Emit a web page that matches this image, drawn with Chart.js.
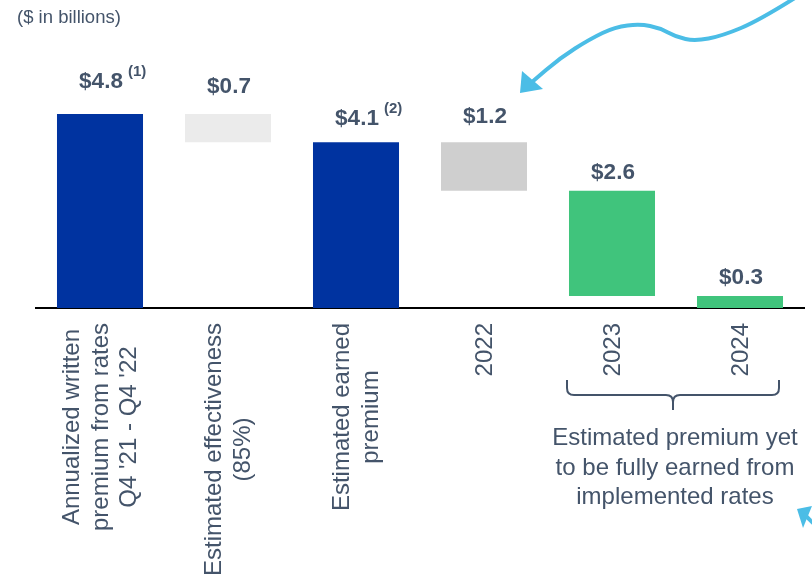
<!DOCTYPE html>
<html>
<head>
<meta charset="utf-8">
<script src="https://cdn.jsdelivr.net/npm/chart.js@4"></script>
<style>
  html, body { margin: 0; padding: 0; background: #fff; }
  #wrap { width: 812px; height: 576px; position: relative; }
</style>
</head>
<body>
<div id="wrap"><canvas id="premiumChart"></canvas></div>
<script>
// Waterfall: written premium -> earned premium -> what is still to be earned
const categories = [
    ['Annualized written', 'premium from rates', "Q4 '21 - Q4 '22"],
    ['Estimated effectiveness', '(85%)'],
    ['Estimated earned', 'premium'],
    ['2022'],
    ['2023'],
    ['2024']
];
const amounts = [4.8, 0.7, 4.1, 1.2, 2.6, 0.3];          // $ billions
const stepTypes = ['total', 'down', 'total', 'down', 'down', 'down'];
const footnotes = ['(1)', '', '(2)', '', '', ''];
const annotation = ['Estimated premium yet', 'to be fully earned from', 'implemented rates'];

const barColors = ['#0033a0', '#ebebeb', '#0033a0', '#cfcfcf', '#40c47c', '#40c47c'];
const labelLift = [26, 21, 17, 19, 12, 12];  // gap between bar top and value label baseline
const textColor = '#44546a';
const arrowColor = '#4bbde6';
const FONT = '"Liberation Sans", Arial, sans-serif';

// floating [from, to] ranges for each step
let level = 0;
const ranges = amounts.map((v, i) => {
    if (stepTypes[i] === 'total') {
        level = v;
        return [0, v];
    }
    const top = level;
    level = +(level - v).toFixed(2);
    return [level, top];
});

function smoothPath(ctx, pts) {
    ctx.moveTo(pts[0][0], pts[0][1]);
    for (let i = 1; i < pts.length - 1; i++) {
        const mx = (pts[i][0] + pts[i + 1][0]) / 2;
        const my = (pts[i][1] + pts[i + 1][1]) / 2;
        ctx.quadraticCurveTo(pts[i][0], pts[i][1], mx, my);
    }
    const last = pts[pts.length - 1];
    ctx.lineTo(last[0], last[1]);
}

const decorations = {
    id: 'decorations',
    afterDraw(chart) {
        const ctx = chart.ctx;
        const xs = chart.scales.x;
        const ys = chart.scales.y;
        const bottom = chart.chartArea.bottom;
        ctx.save();
        ctx.fillStyle = textColor;

        // units note
        ctx.font = '18.5px ' + FONT;
        ctx.textAlign = 'left';
        ctx.textBaseline = 'alphabetic';
        ctx.fillText('($ in billions)', 17, 23);

        // value labels above each bar
        ranges.forEach((r, i) => {
            const cx = xs.getPixelForValue(i) + 1;
            const base = ys.getPixelForValue(r[1]) - labelLift[i];
            const text = '$' + amounts[i].toFixed(1);
            ctx.font = 'bold 22.5px ' + FONT;
            ctx.textAlign = 'center';
            ctx.fillText(text, cx, base);
            if (footnotes[i]) {
                const w = ctx.measureText(text).width;
                ctx.font = 'bold 15px ' + FONT;
                ctx.textAlign = 'left';
                ctx.fillText(footnotes[i], cx + w / 2 + 5, base - 12);
            }
        });

        // rotated category labels, lines centred on each other
        ctx.font = '24px ' + FONT;
        categories.forEach((lines, i) => {
            const cx = xs.getPixelForValue(i);
            const widest = Math.max(...lines.map(l => ctx.measureText(l).width));
            ctx.save();
            ctx.translate(cx, bottom + 15 + widest / 2);
            ctx.rotate(-Math.PI / 2);
            ctx.textAlign = 'center';
            ctx.textBaseline = 'middle';
            lines.forEach((l, k) => ctx.fillText(l, 0, (k - (lines.length - 1) / 2) * 28.5 + 1));
            ctx.restore();
        });

        // brace under 2023 - 2024
        const left = xs.getPixelForValue(4) - 45;
        const right = xs.getPixelForValue(5) + 39;
        const mid = (left + right) / 2;
        const bTop = 380, bLine = 395, bTip = 410, r = 7;
        ctx.strokeStyle = textColor;
        ctx.lineWidth = 2;
        ctx.beginPath();
        ctx.moveTo(left, bTop);
        ctx.lineTo(left, bLine - r);
        ctx.quadraticCurveTo(left, bLine, left + r, bLine);
        ctx.lineTo(mid - r, bLine);
        ctx.quadraticCurveTo(mid, bLine, mid, bLine + r);
        ctx.lineTo(mid, bTip);
        ctx.moveTo(mid, bLine + r);
        ctx.quadraticCurveTo(mid, bLine, mid + r, bLine);
        ctx.lineTo(right - r, bLine);
        ctx.quadraticCurveTo(right, bLine, right, bLine - r);
        ctx.lineTo(right, bTop);
        ctx.stroke();

        ctx.font = '24px ' + FONT;
        ctx.textAlign = 'center';
        ctx.textBaseline = 'alphabetic';
        annotation.forEach((l, k) => ctx.fillText(l, mid + 2, 445 + k * 29.5));

        // curved call-out arrow pointing at the 2022 bar
        ctx.strokeStyle = arrowColor;
        ctx.fillStyle = arrowColor;
        ctx.lineWidth = 4;
        ctx.lineCap = 'round';
        ctx.beginPath();
        smoothPath(ctx, [[798, -4], [760, 20], [722, 36], [695, 41], [676, 37],
                         [660, 28], [640, 24], [615, 27], [590, 39], [560, 58], [532, 82]]);
        ctx.stroke();
        ctx.beginPath();
        ctx.moveTo(520, 93);
        ctx.lineTo(522, 71);
        ctx.lineTo(543, 89);
        ctx.closePath();
        ctx.fill();

        // second arrow coming in from the lower right
        ctx.beginPath();
        ctx.moveTo(797, 509);
        ctx.lineTo(812, 506);
        ctx.lineTo(803, 528);
        ctx.closePath();
        ctx.fill();
        ctx.beginPath();
        ctx.moveTo(805, 515);
        ctx.lineTo(830, 540);
        ctx.stroke();

        ctx.restore();
    }
};

const premiumCtx = document.getElementById('premiumChart').getContext('2d');
const premiumChart = new Chart(premiumCtx, {
    type: 'bar',
    data: {
        labels: categories.map(c => c.join(' ')),
        datasets: [{
            label: 'Premium',
            data: ranges,
            backgroundColor: barColors,
            borderWidth: 0,
            barPercentage: 0.672,
            categoryPercentage: 1
        }]
    },
    options: {
        responsive: true,
        maintainAspectRatio: false,
        animation: false,
        layout: {
            padding: { left: 36, right: 8, top: 5, bottom: 268 }
        },
        plugins: {
            legend: { display: false },
            tooltip: { enabled: false }
        },
        scales: {
            x: {
                grid: { display: false, drawTicks: false },
                border: { color: '#000', width: 2 },
                ticks: { display: false }
            },
            y: {
                display: false,
                min: 0,
                max: 7.5
            }
        }
    },
    plugins: [decorations]
});
</script>
</body>
</html>
